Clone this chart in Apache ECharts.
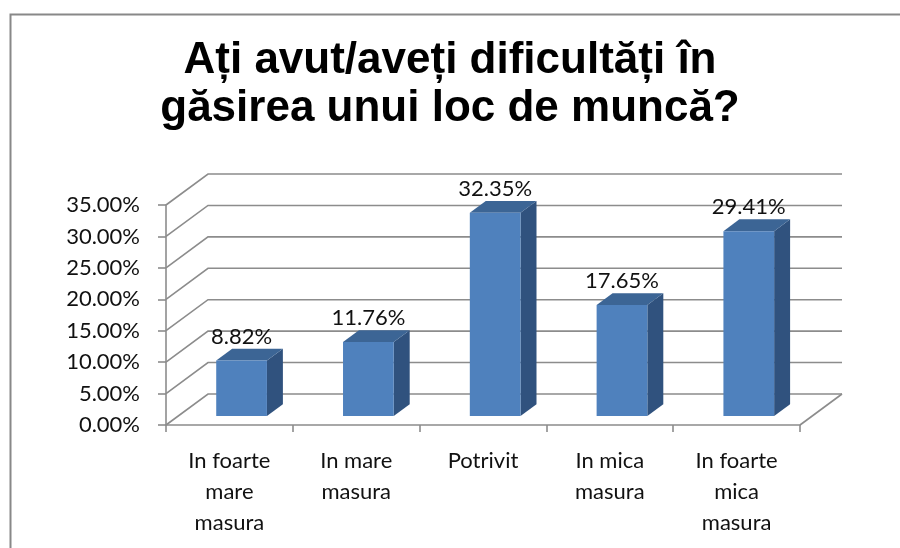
<!DOCTYPE html>
<html>
<head>
<meta charset="utf-8">
<script src="https://cdn.jsdelivr.net/npm/echarts@6/dist/echarts.min.js"></script>
<style>
html,body{margin:0;padding:0;background:#fff;}
#chart{width:900px;height:548px;}
</style>
</head>
<body>
<div id="chart"></div>
<script>
const titleText = 'Ați avut/aveți dificultăți în\ngăsirea unui loc de muncă?';
const categories = ['In foarte\nmare\nmasura', 'In mare\nmasura', 'Potrivit', 'In mica\nmasura', 'In foarte\nmica\nmasura'];
const values = [8.82, 11.76, 32.35, 17.65, 29.41];
const yTicks = [0, 5, 10, 15, 20, 25, 30, 35];

// 3D depth styling
const DX = 42, DY = -31;
const T0 = 0.29, T1 = 0.67;
const BAR_FRAC = 0.40;
const LINE = '#8c8c8c';
const FONT = 'Lato, "Open Sans", sans-serif';

const chart = echarts.init(document.getElementById('chart'), null, {renderer: 'canvas'});

function wallRender(params, api) {
  const cs = params.coordSys;
  const v = api.value(1);
  const y = api.coord([0, v])[1];
  const x0 = cs.x, x1 = cs.x + cs.width;
  const children = [{
    type: 'polyline',
    shape: {points: [[x0, y], [x0 + DX, y + DY], [x1 + DX, y + DY]]},
    style: {stroke: LINE, lineWidth: 1.6, fill: null}
  }];
  if (v === 0) {
    children.push({
      type: 'line',
      shape: {x1: x1, y1: y, x2: x1 + DX, y2: y + DY},
      style: {stroke: LINE, lineWidth: 1.6}
    });
  }
  return {type: 'group', children: children};
}

function barRender(params, api) {
  const i = api.value(0), v = api.value(1);
  const base = api.coord([i, 0]);
  const top = api.coord([i, v]);
  const bw = api.size([1, 0])[0] * BAR_FRAC;
  const fx = base[0] - bw / 2 + T0 * DX;
  const fy0 = base[1] + T0 * DY;
  const fy1 = top[1] + T0 * DY;
  const ddx = (T1 - T0) * DX, ddy = (T1 - T0) * DY;
  return {
    type: 'group',
    children: [
      {type: 'polygon', shape: {points: [[fx + bw, fy1], [fx + bw + ddx, fy1 + ddy], [fx + bw + ddx, fy0 + ddy], [fx + bw, fy0]]},
        style: {fill: '#30527e'}},
      {type: 'polygon', shape: {points: [[fx, fy1], [fx + bw, fy1], [fx + bw + ddx, fy1 + ddy], [fx + ddx, fy1 + ddy]]},
        style: {fill: '#3c6595'}},
      {type: 'rect', shape: {x: fx, y: fy1, width: bw, height: fy0 - fy1},
        style: {fill: '#4f81bd'}},
      {type: 'text', x: fx + bw / 2, y: fy1 + ddy - 1,
        style: {text: v.toFixed(2) + '%', align: 'center', verticalAlign: 'bottom',
          font: '22px ' + FONT, fill: '#111'}}
    ]
  };
}

const option = {
  backgroundColor: '#fff',
  animation: false,
  title: {
    text: titleText,
    left: 'center',
    top: 37,
    padding: [0, 0, 0, 23],
    textStyle: {fontFamily: '"Liberation Sans", Arial, sans-serif', fontWeight: 'bold', fontSize: 44, lineHeight: 48, color: '#000'}
  },
  graphic: [{
    type: 'rect', left: 8, top: 12, silent: true,
    shape: {width: 1000, height: 1000},
    style: {fill: null, stroke: '#888', lineWidth: 2}
  }],
  grid: {left: 166, right: 100, top: 205, bottom: 123},
  xAxis: {
    type: 'category',
    data: categories,
    axisLine: {show: true, lineStyle: {color: LINE, width: 1.6}},
    axisTick: {show: true, length: 7, lineStyle: {color: LINE, width: 1.6}},
    axisLabel: {fontFamily: FONT, fontSize: 22, lineHeight: 31, color: '#111', margin: 20, interval: 0}
  },
  yAxis: {
    type: 'value',
    min: 0, max: 35, interval: 5,
    axisLine: {show: true, lineStyle: {color: LINE, width: 1.6}},
    axisTick: {show: true, length: 8, lineStyle: {color: LINE, width: 1.6}},
    splitLine: {show: false},
    axisLabel: {fontFamily: FONT, fontSize: 22, color: '#111', margin: 26,
      formatter: function (v) { return v.toFixed(2) + '%'; }}
  },
  series: [
    {type: 'custom', name: 'walls', clip: false, z: 1, silent: true,
      data: yTicks.map(function (v) { return [0, v]; }), renderItem: wallRender},
    {type: 'custom', name: 'bars', clip: false, z: 3, silent: true,
      data: values.map(function (v, i) { return [i, v]; }), renderItem: barRender}
  ]
};
chart.setOption(option);
</script>
</body>
</html>
